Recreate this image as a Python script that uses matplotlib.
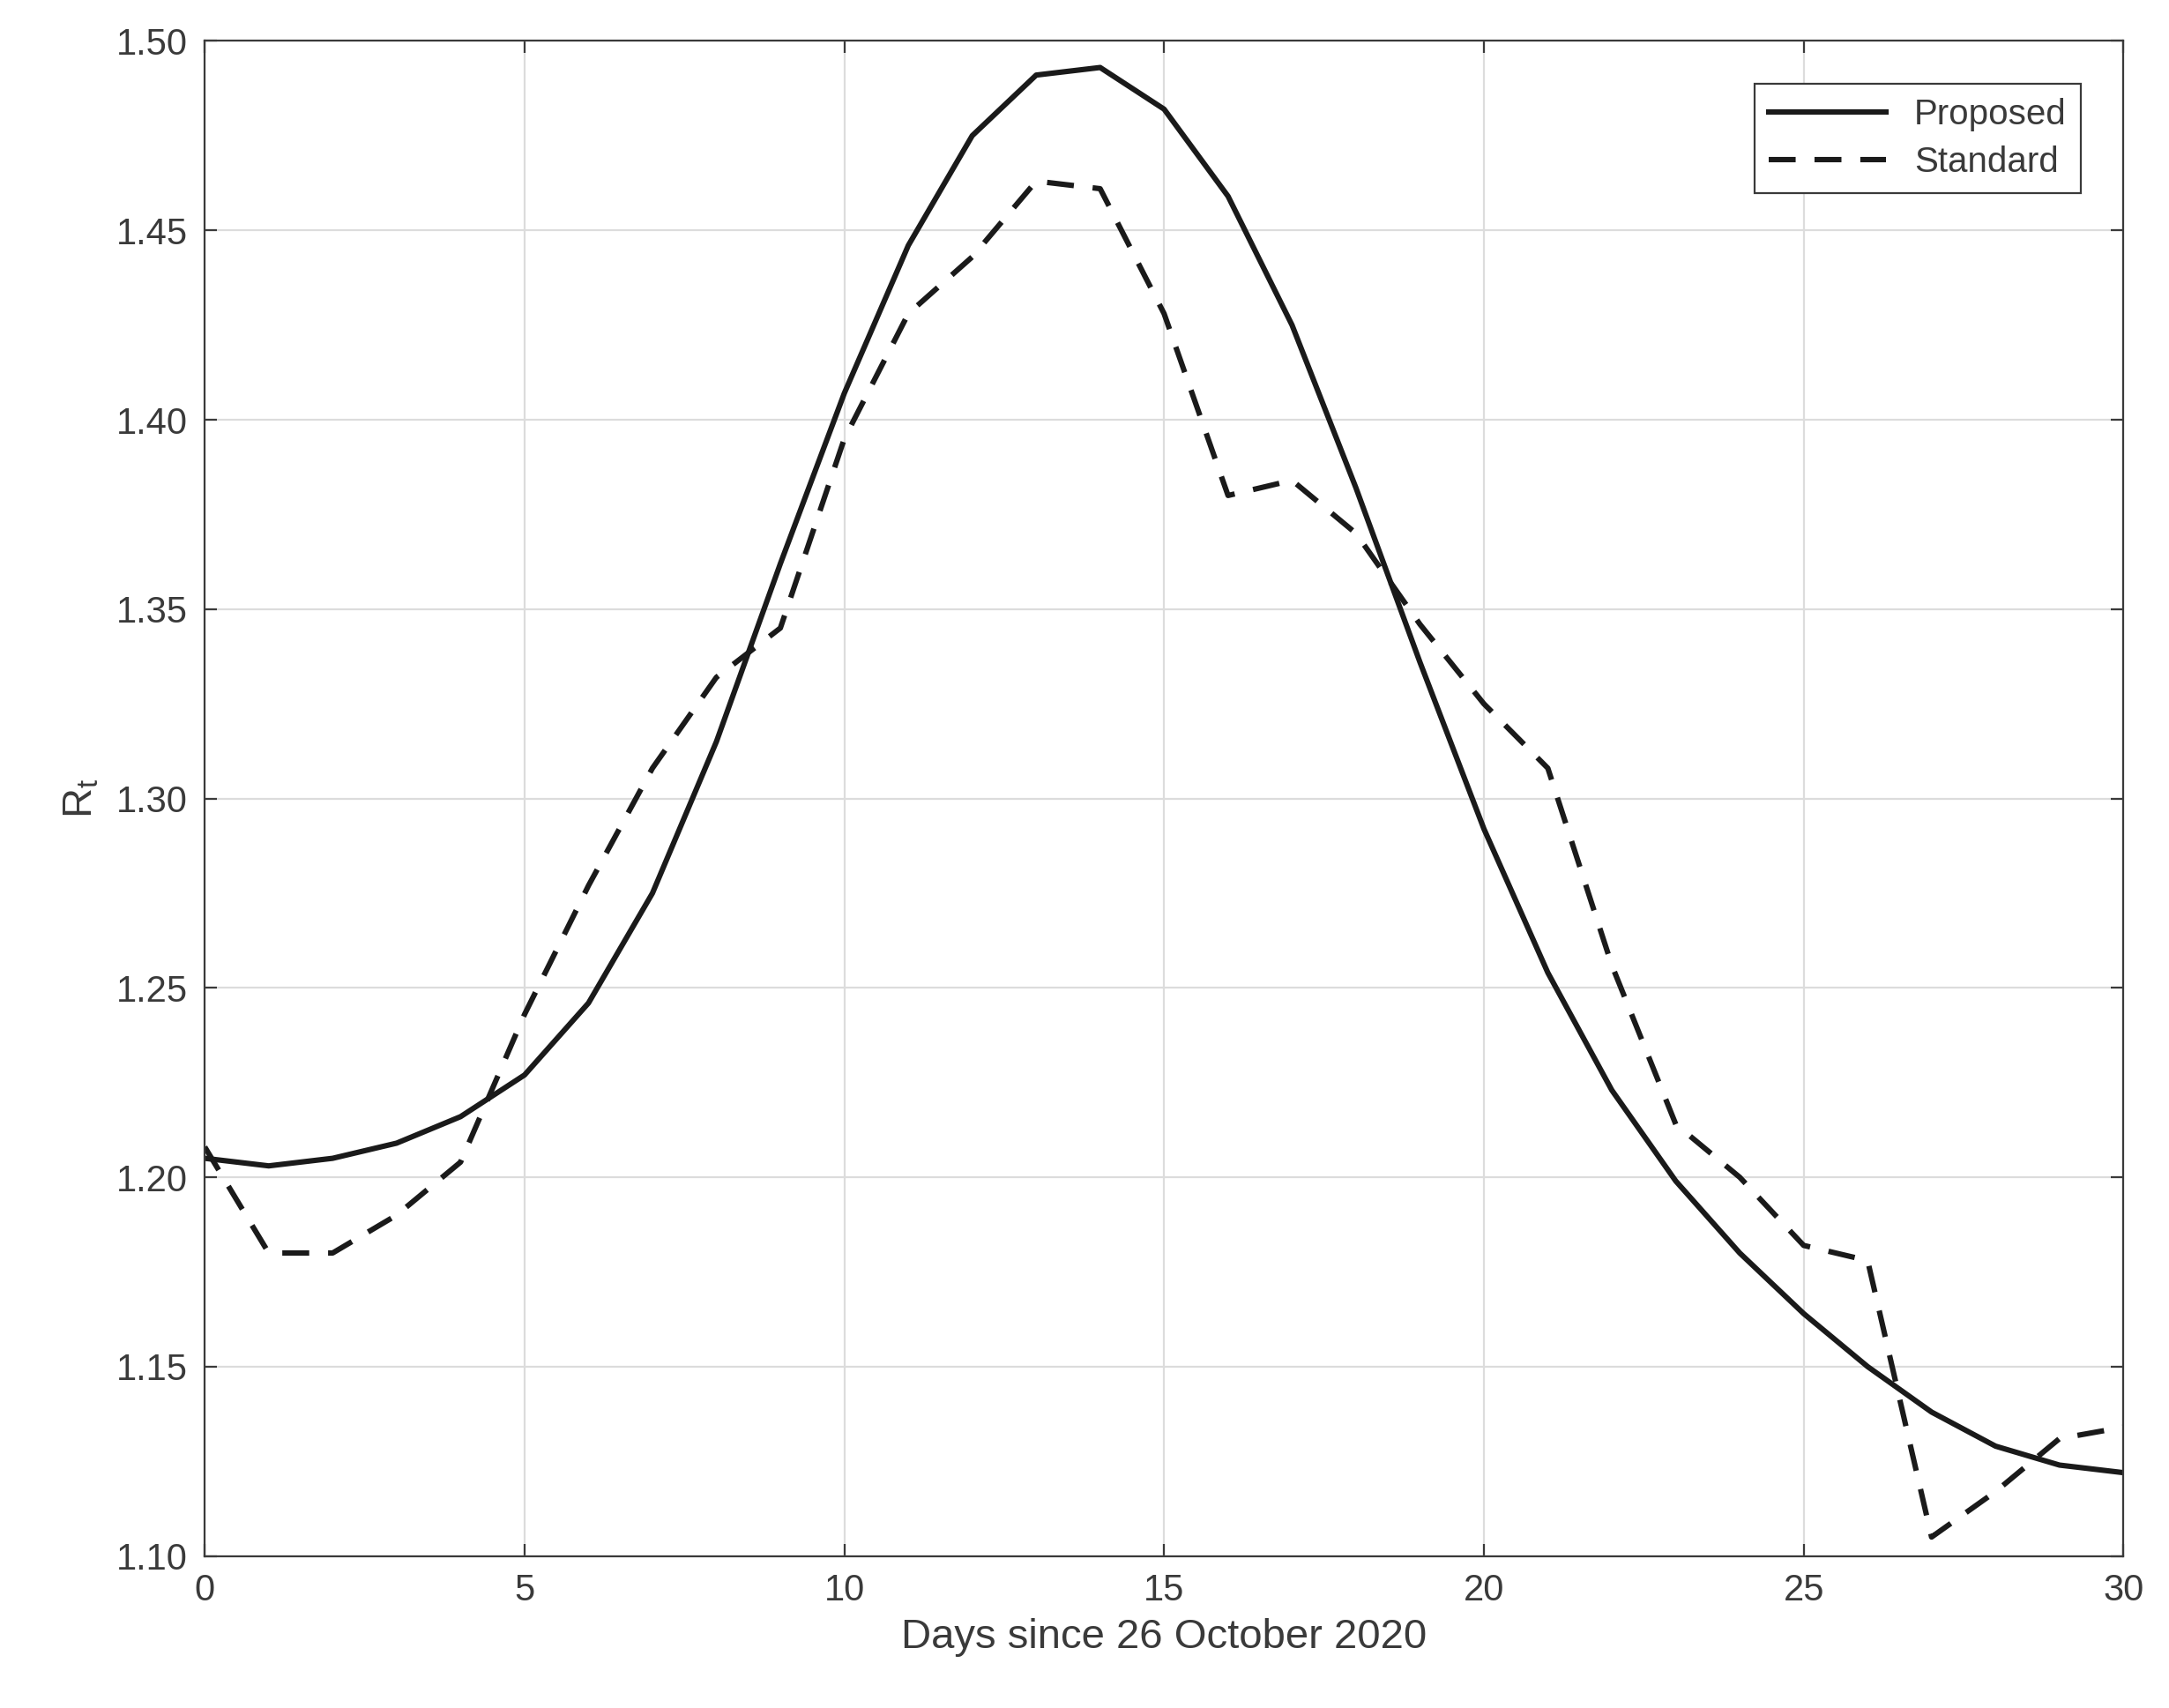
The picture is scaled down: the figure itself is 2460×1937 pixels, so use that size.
import matplotlib
matplotlib.use("Agg")
import matplotlib.pyplot as plt

days = list(range(31))
proposed = [1.205,1.203,1.205,1.209,1.216,1.227,1.246,1.275,1.315,1.362,1.407,1.446,1.475,1.491,1.493,1.482,1.459,1.425,1.382,1.336,1.292,1.254,1.223,1.199,1.180,1.164,1.150,1.138,1.129,1.124,1.122]
standard = [1.208,1.180,1.180,1.190,1.204,1.243,1.277,1.308,1.332,1.345,1.395,1.428,1.443,1.463,1.461,1.428,1.380,1.384,1.370,1.346,1.325,1.308,1.256,1.214,1.200,1.182,1.178,1.105,1.117,1.131,1.134]

plt.rcParams['font.family'] = ['Liberation Sans', 'DejaVu Sans']
tc = '#3a3a3a'
fig = plt.figure(figsize=(12.3, 9.685), dpi=200)
ax = fig.add_axes([0.0944, 0.089, 0.8846, 0.887])
ax.plot(days, proposed, '-', color='#1a1a1a', lw=2.2, label='Proposed')
ax.plot(days, standard, '--', color='#1a1a1a', lw=2.2, dashes=(5, 3.5), label='Standard')
ax.set_xlim(0, 30)
ax.set_ylim(1.10, 1.50)
ax.set_xticks(range(0, 31, 5))
ax.set_yticks([1.10+0.05*i for i in range(9)])
ax.set_yticklabels([f"{1.10+0.05*i:.2f}" for i in range(9)])
ax.grid(True, color='#dcdcdc', lw=0.8)
ax.tick_params(labelsize=15, colors=tc, direction='in', top=True, right=True, length=5, pad=7)
for s in ax.spines.values():
    s.set_color(tc); s.set_linewidth(0.8)
ax.set_xlabel('Days since 26 October 2020', fontsize=17, color=tc, labelpad=4)
ax.set_ylabel('$\\mathregular{R_t}$', fontsize=17, color=tc, labelpad=6)
leg = ax.legend(loc='upper right', fontsize=14.5, fancybox=False, edgecolor=tc, handlelength=3.3,
                framealpha=1, borderaxespad=1.2, borderpad=0.4, labelspacing=0.4)
leg.get_frame().set_linewidth(0.8)
for t in leg.get_texts(): t.set_color(tc)
fig.savefig('out.png')
